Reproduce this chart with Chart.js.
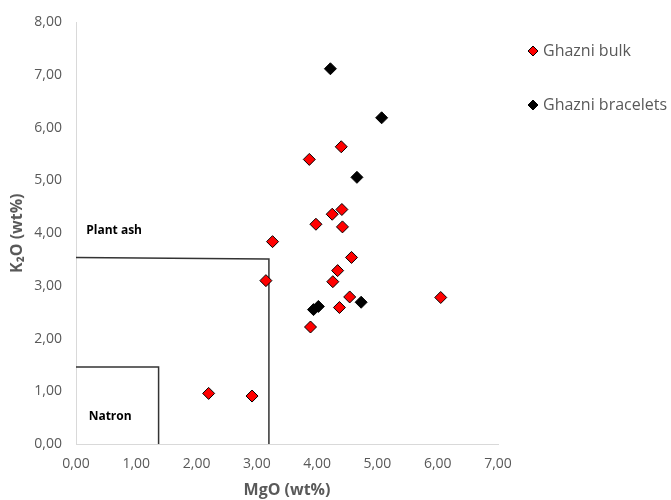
<!DOCTYPE html>
<html>
<head>
<meta charset="utf-8">
<script src="https://cdn.jsdelivr.net/npm/chart.js@4.4.0/dist/chart.umd.min.js"></script>
<style>
  body { margin: 0; background: #fff; }
  #wrap { width: 671px; height: 500px; }
</style>
</head>
<body>
<div id="wrap"><canvas id="chart" width="671" height="500"></canvas></div>
<script>
// MgO (x) and K2O (y), wt%
const bulkMgO = [4.40, 3.87, 4.41, 4.25, 3.98, 4.42, 3.26, 4.57, 4.34, 4.26, 3.15, 4.54, 6.05, 4.37, 3.89, 2.20, 2.92];
const bulkK2O = [5.64, 5.40, 4.45, 4.36, 4.17, 4.12, 3.84, 3.54, 3.29, 3.08, 3.10, 2.79, 2.78, 2.59, 2.22, 0.96, 0.91];
const braceletMgO = [4.22, 5.07, 4.66, 4.73, 3.94, 4.02];
const braceletK2O = [7.12, 6.19, 5.06, 2.69, 2.55, 2.61];

// field boundaries
const plantAshX = [0, 3.16, 3.20, 3.20];
const plantAshY = [3.54, 3.51, 3.51, 0];
const natronX = [0, 1.37, 1.37];
const natronY = [1.46, 1.46, 0];

const seriesNames = ['Ghazni bulk', 'Ghazni bracelets'];
const seriesColors = ['#FF0000', '#000000'];
const fieldLabels = [
    { text: 'Plant ash', x: 0.17, y: 4.05 },
    { text: 'Natron', x: 0.21, y: 0.52 }
];

const toPoints = (xs, ys) => xs.map((x, i) => ({ x: x, y: ys[i] }));
const fmt = v => v.toFixed(2).replace('.', ',');
const FONT = "'Open Sans', sans-serif";

const overlay = {
    id: 'overlay',
    afterDraw(chart) {
        const ctx = chart.ctx;
        const xs = chart.scales.x, ys = chart.scales.y;
        ctx.save();
        ctx.fillStyle = '#000';
        ctx.font = "bold 12px " + FONT;
        ctx.textBaseline = 'middle';
        fieldLabels.forEach(l => {
            ctx.fillText(l.text, xs.getPixelForValue(l.x), ys.getPixelForValue(l.y));
        });

        // legend
        ctx.font = "16px " + FONT;
        seriesNames.forEach((name, i) => {
            const cx = 533, cy = 51 + i * 54, r = 5;
            ctx.beginPath();
            ctx.moveTo(cx, cy - r);
            ctx.lineTo(cx + r, cy);
            ctx.lineTo(cx, cy + r);
            ctx.lineTo(cx - r, cy);
            ctx.closePath();
            ctx.fillStyle = seriesColors[i];
            ctx.fill();
            ctx.strokeStyle = '#000';
            ctx.lineWidth = 1;
            ctx.stroke();
            ctx.fillStyle = '#595959';
            ctx.fillText(name, 543, cy);
        });
        ctx.restore();
    }
};

function markerSet(name, xs, ys, color, order) {
    return {
        label: name,
        data: toPoints(xs, ys),
        pointStyle: 'rectRot',
        pointRadius: 6,
        pointHoverRadius: 6,
        backgroundColor: color,
        hoverBackgroundColor: color,
        borderColor: '#000',
        hoverBorderColor: '#000',
        borderWidth: 1,
        hoverBorderWidth: 1,
        order: order
    };
}

function fieldLine(name, xs, ys) {
    return {
        label: name,
        data: toPoints(xs, ys),
        showLine: true,
        borderColor: '#333333',
        borderWidth: 1.5,
        pointRadius: 0,
        pointHoverRadius: 0,
        fill: false,
        clip: false,
        order: 3
    };
}

new Chart(document.getElementById('chart'), {
    type: 'scatter',
    data: {
        datasets: [
            fieldLine('Plant ash field', plantAshX, plantAshY),
            fieldLine('Natron field', natronX, natronY),
            markerSet(seriesNames[1], braceletMgO, braceletK2O, seriesColors[1], 1),
            markerSet(seriesNames[0], bulkMgO, bulkK2O, seriesColors[0], 2)
        ]
    },
    options: {
        responsive: false,
        animation: false,
        events: [],
        layout: { padding: { top: 21, right: 173, left: 0, bottom: 0 } },
        plugins: {
            legend: { display: false },
            tooltip: { enabled: false }
        },
        scales: {
            x: {
                type: 'linear',
                min: 0, max: 7,
                ticks: { stepSize: 1, callback: fmt, color: '#595959', font: { family: FONT, size: 14 }, padding: 12 },
                grid: { display: false, drawTicks: false },
                border: { color: '#D9D9D9' },
                title: { display: true, text: 'MgO (wt%)', color: '#595959', font: { family: FONT, size: 16, weight: 'bold' }, padding: { top: 2, bottom: 0 } },
                afterFit(scale) { scale.height = 56; }
            },
            y: {
                type: 'linear',
                min: 0, max: 8,
                ticks: { stepSize: 1, callback: fmt, color: '#595959', font: { family: FONT, size: 14 }, padding: 14 },
                grid: { display: false, drawTicks: false },
                border: { color: '#D9D9D9' },
                title: { display: true, text: 'K₂O (wt%)', color: '#595959', font: { family: FONT, size: 16, weight: 'bold' }, padding: { top: 8, bottom: 0 } },
                afterFit(scale) { scale.width = 76; }
            }
        }
    },
    plugins: [overlay]
});
</script>
</body>
</html>
